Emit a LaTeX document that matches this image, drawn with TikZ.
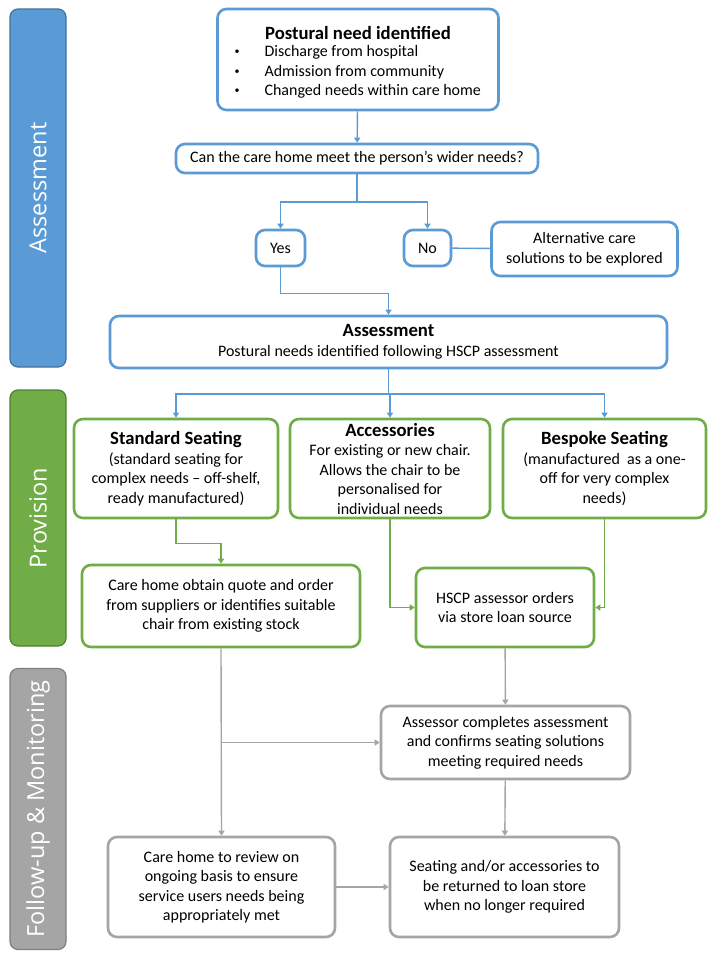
\documentclass[tikz,border=0pt]{standalone}
\usepackage{fontspec}
\setmainfont{Carlito}
\newfontfamily\barfont{Open Sans}
\usetikzlibrary{arrows.meta}

\definecolor{asblue}{HTML}{5B9BD5}
\definecolor{asbluedark}{HTML}{41719C}
\definecolor{prgreen}{HTML}{70AD47}
\definecolor{prgreendark}{HTML}{507E32}
\definecolor{fugray}{HTML}{A5A5A5}
\definecolor{fugraydark}{HTML}{7F7F7F}

\tikzset{
    box/.style={draw, fill=white, rounded corners=9pt, line width=2.6pt, align=center,
        inner sep=2pt, font=\fontsize{16}{19.5}\selectfont},
    bluebox/.style={box, draw=asblue},
    greenbox/.style={box, draw=prgreen},
    graybox/.style={box, draw=fugray},
    sidebar/.style={draw, rounded corners=8pt, line width=1.2pt, rotate=90, text=white,
        font=\barfont\fontsize{23.5}{26}\selectfont, minimum height=56pt},
    link/.style={line width=1.4pt, -{Triangle[width=6pt,length=5pt]}},
    bluelink/.style={link, draw=asblue},
    greenlink/.style={link, draw=prgreen},
    graylink/.style={link, draw=fugray}
}

\begin{document}
\begin{tikzpicture}[x=1pt, y=-1pt]
    \useasboundingbox[fill=white] (0,0) rectangle (716,959);

    % Side bars
    \node[sidebar, fill=asblue, draw=asbluedark, minimum width=358pt] (barassess) at (38,188) {Assessment};
    \node[sidebar, fill=prgreen, draw=prgreendark, minimum width=256pt] (barprov) at (38,518) {Provision};
    \node[sidebar, fill=fugray, draw=fugraydark, minimum width=281pt] (barfollow) at (38,809) {Follow-up \& Monitoring};

    % Assessment
    \node[bluebox, minimum width=281pt, minimum height=101pt] (need) at (358,59.5) {};
    \node[font=\bfseries\fontsize{18.7}{22}\selectfont] (needtitle) at (358,33) {Postural need identified};
    \node[anchor=west, font=\fontsize{16}{19}\selectfont] (needa) at (261,52) {Discharge from hospital};
    \node[anchor=west, font=\fontsize{16}{19}\selectfont] (needb) at (261,72) {Admission from community};
    \node[anchor=west, font=\fontsize{16}{19}\selectfont] (needc) at (261,91) {Changed needs within care home};
    \node (bulleta) at (237,52) {\textbullet};
    \node (bulletb) at (237,72) {\textbullet};
    \node (bulletc) at (237,91) {\textbullet};

    \node[bluebox, minimum width=362pt, minimum height=29pt] (ask) at (357,158.5) {Can the care home meet the person’s wider needs?};
    \node[bluebox, minimum width=49pt, minimum height=36pt] (yes) at (280.5,248) {Yes};
    \node[bluebox, minimum width=47pt, minimum height=36pt] (no) at (427.5,248) {No};
    \node[bluebox, minimum width=186pt, minimum height=54pt] (alt) at (584.5,249) {Alternative care\\solutions to be explored};
    \node[bluebox, minimum width=557pt, minimum height=52pt] (assess) at (388.5,342)
        {{\bfseries\fontsize{18.7}{20}\selectfont Assessment}\\Postural needs identified following HSCP assessment};

    \coordinate (askfork) at (357,202);
    \draw[bluelink] (need) -- (ask);
    \draw[bluelink] (ask) -- (askfork) -| (yes);
    \draw[bluelink] (askfork) -| (no);
    \draw[line width=1.4pt, asblue] (no) -- (alt);
    \draw[bluelink] (yes.south) -- ++(0,26) -| (assess.north);

    % Provision
    \node[greenbox, minimum width=204pt, minimum height=99pt] (standard) at (176,468.5)
        {{\bfseries\fontsize{18.7}{21}\selectfont Standard Seating}\\(standard seating for\\complex needs -- off-shelf,\\ready manufactured)};
    \node[greenbox, minimum width=200pt, minimum height=99pt] (acc) at (390,468.5)
        {{\bfseries\fontsize{18.7}{19}\selectfont Accessories}\\For existing or new chair.\\Allows the chair to be\\personalised for\\individual needs};
    \node[greenbox, minimum width=203pt, minimum height=99pt] (bespoke) at (604.5,468.5)
        {{\bfseries\fontsize{18.7}{21}\selectfont Bespoke Seating}\\(manufactured\ \ as a one-\\off for very complex\\needs)};
    \node[greenbox, minimum width=278pt, minimum height=82pt] (obtain) at (221,606)
        {Care home obtain quote and order\\from suppliers or identifies suitable\\chair from existing stock};
    \node[greenbox, minimum width=178pt, minimum height=79pt] (hscp) at (505,607.5)
        {HSCP assessor orders\\via store loan source};

    \coordinate (assessfork) at (388.5,394);
    \draw[bluelink] (assess) -- (assessfork) -| (standard);
    \draw[bluelink] (assessfork) -| (acc);
    \draw[bluelink] (assessfork) -| (bespoke);
    \draw[greenlink] (standard.south) -- ++(0,24) -| (obtain.north);
    \draw[greenlink] (acc.south) |- (hscp.west);
    \draw[greenlink] (bespoke.south) |- (hscp.east);

    % Follow-up & Monitoring
    \node[graybox, minimum width=249pt, minimum height=73pt] (check) at (505.5,742.5)
        {Assessor completes assessment\\and confirms seating solutions\\meeting required needs};
    \node[graybox, minimum width=227pt, minimum height=100pt] (review) at (221.5,887)
        {Care home to review on\\ongoing basis to ensure\\service users needs being\\appropriately met};
    \node[graybox, minimum width=229pt, minimum height=100pt] (returned) at (504.5,887)
        {Seating and/or accessories to\\be returned to loan store\\when no longer required};

    \coordinate (branch) at (221,742.5);
    \draw[graylink] (obtain.south) -- (review.north);
    \draw[graylink] (branch) -- (check.west);
    \draw[graylink] (hscp) -- (check);
    \draw[graylink] (check) -- (returned);
    \draw[graylink] (review) -- (returned);

\end{tikzpicture}
\end{document}
